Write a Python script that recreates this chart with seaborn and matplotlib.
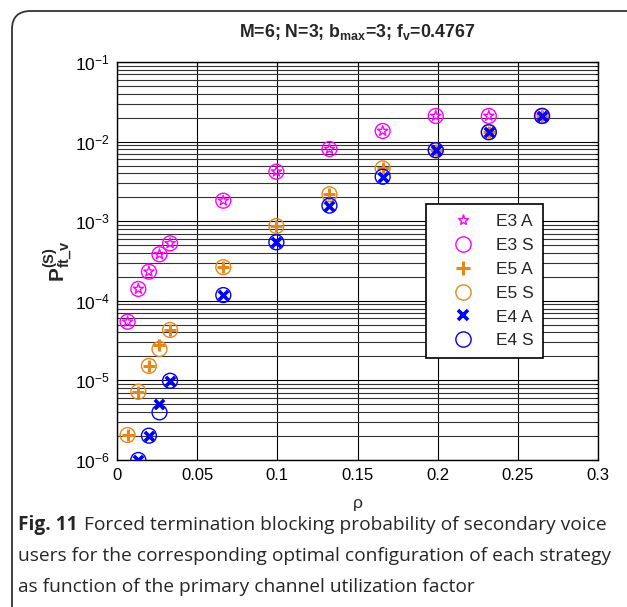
import matplotlib
matplotlib.use("Agg")
import matplotlib.pyplot as plt
from matplotlib.lines import Line2D
from matplotlib.patches import FancyBboxPatch
from matplotlib.ticker import LogLocator, FixedLocator
import seaborn as sns
import pandas as pd

# primary channel utilization factor
rho = [0.0066, 0.0133, 0.0199, 0.0265, 0.0331, 0.0663, 0.0994,
       0.1325, 0.1657, 0.1988, 0.2319, 0.2651]
rho_e4 = rho[1:]

# forced termination probability of secondary voice users
e3_a = [5.46e-5, 1.41e-4, 2.32e-4, 3.84e-4, 5.27e-4, 1.81e-3, 4.19e-3,
        8.07e-3, 1.36e-2, 2.10e-2, 2.10e-2, 2.10e-2]
e3_s = [5.46e-5, 1.41e-4, 2.32e-4, 3.84e-4, 5.27e-4, 1.81e-3, 4.19e-3,
        8.07e-3, 1.36e-2, 2.10e-2, 2.10e-2, 2.10e-2]
e5_a = [2.06e-6, 7.2e-6, 1.52e-5, 2.79e-5, 4.3e-5, 2.64e-4, 8.7e-4,
        2.18e-3, 4.61e-3, 7.8e-3, 1.33e-2, 2.10e-2]
e5_s = [2.06e-6, 7.2e-6, 1.52e-5, 2.48e-5, 4.3e-5, 2.64e-4, 8.7e-4,
        2.18e-3, 4.61e-3, 7.8e-3, 1.33e-2, 2.10e-2]
e4_a = [1.0e-6, 2.02e-6, 5.06e-6, 9.9e-6, 1.18e-4, 5.43e-4, 1.57e-3,
        3.62e-3, 7.8e-3, 1.31e-2, 2.10e-2]
e4_s = [1.0e-6, 2.02e-6, 3.97e-6, 9.9e-6, 1.18e-4, 5.43e-4, 1.57e-3,
        3.62e-3, 7.8e-3, 1.31e-2, 2.10e-2]

x_ticks = [0, 0.05, 0.1, 0.15, 0.2, 0.25, 0.3]
x_tick_labels = ["0", "0.05", "0.1", "0.15", "0.2", "0.25", "0.3"]

MAGENTA = "#ff00ff"
ORANGE = "#e6861a"
BLUE = "#0000ff"

sns.set_style("white")
plt.rcParams["font.family"] = ["Liberation Sans", "DejaVu Sans"]
plt.rcParams["mathtext.fontset"] = "custom"
plt.rcParams["mathtext.rm"] = "Liberation Sans"
plt.rcParams["mathtext.it"] = "Liberation Sans:italic"
plt.rcParams["mathtext.bf"] = "Liberation Sans:bold"

fig = plt.figure(figsize=(6.27, 6.07), dpi=100)
W, H = 627, 607
ax = fig.add_axes([117 / W, 1 - 460 / H, (598 - 117) / W, (460 - 62) / H])

series = [
    (rho, e3_s, "o", MAGENTA, 115, 1.0, "E3 S"),
    (rho, e3_a, "*", MAGENTA, 60, 1.0, "E3 A"),
    (rho, e5_s, "o", ORANGE, 115, 1.0, "E5 S"),
    (rho, e5_a, "+", ORANGE, 85, 2.2, "E5 A"),
    (rho_e4, e4_s, "o", BLUE, 115, 1.0, "E4 S"),
    (rho_e4, e4_a, "x", BLUE, 45, 2.6, "E4 A"),
]
for xs, ys, mk, col, size, lw, name in series:
    df = pd.DataFrame({"rho": xs, "p": ys})
    if mk in ("o", "*"):
        sns.scatterplot(data=df, x="rho", y="p", marker=mk, s=size, ax=ax,
                        color=col, facecolor="none", edgecolor=col,
                        linewidth=lw, zorder=3, legend=False)
    else:
        sns.scatterplot(data=df, x="rho", y="p", marker=mk, s=size, ax=ax,
                        color=col, linewidth=lw, zorder=3, legend=False)

ax.set_yscale("log")
ax.set_xlim(0, 0.3)
ax.set_ylim(1e-6, 1e-1)
ax.xaxis.set_major_locator(FixedLocator(x_ticks))
ax.set_xticklabels(x_tick_labels)
ax.yaxis.set_major_locator(LogLocator(base=10, numticks=10))
ax.yaxis.set_minor_locator(LogLocator(base=10, subs=range(2, 10), numticks=20))
ax.grid(True, which="major", color="black", linewidth=0.8)
ax.grid(True, which="minor", axis="y", color="#333333", linewidth=0.8)
ax.set_axisbelow(True)
for sp in ax.spines.values():
    sp.set_color("black")
    sp.set_linewidth(1.0)
ax.tick_params(which="both", direction="in", top=True, right=True,
               labelsize=12.5, colors="black", length=4)
ax.tick_params(which="minor", length=2.5)
ax.tick_params(axis="x", pad=6, labelsize=12)
ax.tick_params(axis="y", pad=5)

ax.set_xlabel("ρ", fontsize=12.5, labelpad=9)
ax.set_ylabel(r"$\mathbf{P}^{\mathbf{(S)}}_{\mathbf{ft\_v}}$", fontsize=15,
              labelpad=0)
ax.set_title(r"M=6; N=3; b$_{\mathbf{max}}$=3; f$_{\mathbf{v}}$=0.4767",
             fontsize=12.8, fontweight="bold", pad=18)

handles = [
    Line2D([], [], ls="", marker="*", ms=8, mfc="none", mec=MAGENTA, mew=1.0),
    Line2D([], [], ls="", marker="o", ms=11, mfc="none", mec=MAGENTA, mew=1.0),
    Line2D([], [], ls="", marker="+", ms=10, mec=ORANGE, mew=2.2),
    Line2D([], [], ls="", marker="o", ms=11, mfc="none", mec=ORANGE, mew=1.0),
    Line2D([], [], ls="", marker="x", ms=7, mec=BLUE, mew=2.6),
    Line2D([], [], ls="", marker="o", ms=11, mfc="none", mec=BLUE, mew=1.0),
]
labels = ["E3 A", "E3 S", "E5 A", "E5 S", "E4 A", "E4 S"]
leg = ax.legend(handles, labels, loc="upper left",
                bbox_to_anchor=(0.642, 0.642), fontsize=12.5, frameon=True,
                fancybox=False, edgecolor="black", framealpha=1,
                borderpad=0.55, labelspacing=0.5, handletextpad=0.3,
                handlelength=3.2, borderaxespad=0)
leg.get_frame().set_linewidth(1.2)

# caption frame
frame = FancyBboxPatch((12 / W, 1 - 625 / H), 800 / W, (625 - 11) / H,
                       boxstyle="round,pad=0,rounding_size=0.03",
                       transform=fig.transFigure, fill=False,
                       edgecolor="#333333", linewidth=1.3, clip_on=False)
fig.patches.append(frame)

cap_font = ["Open Sans", "DejaVu Sans"]
cap_size = 13.75
head = fig.text(18 / W, 1 - 525 / H, "Fig. 11", fontsize=cap_size,
                fontweight="bold", family=cap_font, va="center", ha="left")
renderer = fig.canvas.get_renderer()
bb = head.get_window_extent(renderer=renderer)
fig.text(bb.x1 / W + 6 / W, 1 - 525 / H,
         "Forced termination blocking probability of secondary voice",
         fontsize=cap_size, family=cap_font, va="center", ha="left")
fig.text(18 / W, 1 - 556 / H,
         "users for the corresponding optimal configuration of each strategy",
         fontsize=cap_size, family=cap_font, va="center", ha="left")
fig.text(18 / W, 1 - 587 / H,
         "as function of the primary channel utilization factor",
         fontsize=cap_size, family=cap_font, va="center", ha="left")

fig.savefig("out.png", dpi=100)
